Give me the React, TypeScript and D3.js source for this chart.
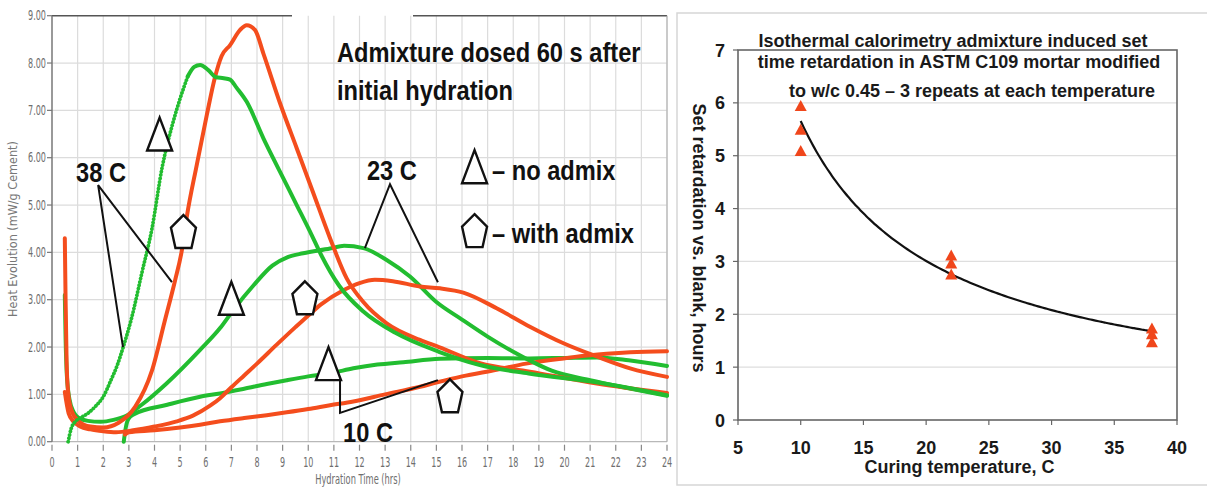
import React from "react";
import * as d3 from "d3";

type Pt = [number, number];

// ---------- Left panel: heat evolution curves, [hours, mW/g cement] ----------
const HOUR_TICKS = d3.range(0, 25);
const HEAT_TICKS = d3.range(0, 10);

const HEAT_38C_NO_ADMIX: Pt[] = [
  [0.63, 0.0], [0.75, 0.28], [0.9, 0.42], [1.1, 0.5], [1.4, 0.6], [1.7, 0.75], [2.0, 0.95],
  [2.3, 1.3], [2.55, 1.62], [2.78, 2.0], [3.1, 2.6], [3.5, 3.55], [3.9, 4.5], [4.3, 5.8],
  [4.7, 6.7], [5.0, 7.25], [5.3, 7.72], [5.55, 7.92], [5.78, 7.96], [6.1, 7.85], [6.4, 7.7],
  [6.7, 7.68], [6.95, 7.65], [7.2, 7.48], [7.6, 7.18], [8.25, 6.41], [8.9, 5.7], [9.55, 5.0],
  [10.13, 4.37], [10.5, 3.95], [11.2, 3.3], [12.15, 2.75], [13.4, 2.3], [15.1, 1.9],
  [16.7, 1.62], [18.6, 1.44], [21.3, 1.25], [24, 0.98],
];

const HEAT_38C_WITH_ADMIX: Pt[] = [
  [0.5, 4.3], [0.53, 3.0], [0.57, 1.7], [0.62, 1.1], [0.75, 0.68], [1.0, 0.45], [1.5, 0.32],
  [2.0, 0.3], [2.6, 0.4], [3.25, 0.74], [3.9, 1.5], [4.4, 2.55], [4.8, 3.4], [5.07, 4.05],
  [5.26, 4.75], [5.65, 5.85], [6.04, 6.9], [6.36, 7.7], [6.62, 8.15], [6.95, 8.38], [7.34, 8.7],
  [7.6, 8.8], [7.92, 8.7], [8.25, 8.2], [8.9, 7.15], [9.55, 6.2], [10.2, 5.25], [10.85, 4.3],
  [11.5, 3.45], [12.15, 2.95], [13.06, 2.5], [14.36, 2.15], [15.1, 2.0], [16.7, 1.66],
  [18.65, 1.48], [21.26, 1.23], [24, 1.03],
];

const HEAT_23C_NO_ADMIX: Pt[] = [
  [0.5, 3.1], [0.53, 2.2], [0.58, 1.4], [0.68, 0.9], [0.85, 0.62], [1.05, 0.5], [1.4, 0.44],
  [1.9, 0.42], [2.4, 0.46], [2.9, 0.55], [3.5, 0.78], [4.47, 1.23], [5.78, 1.94], [6.56, 2.4],
  [7.1, 2.8], [7.86, 3.3], [8.6, 3.72], [9.2, 3.9], [9.8, 3.98], [10.85, 4.08], [11.4, 4.14],
  [12.15, 4.09], [13.06, 3.84], [13.97, 3.49], [15.0, 2.95], [16.0, 2.58], [17.0, 2.22],
  [18.0, 1.9], [18.7, 1.7], [19.5, 1.5], [21.0, 1.3], [22.5, 1.13], [24, 0.97],
];

const HEAT_23C_WITH_ADMIX: Pt[] = [
  [0.5, 1.05], [0.65, 0.6], [0.85, 0.42], [1.1, 0.32], [1.5, 0.26], [2.0, 0.22], [2.5, 0.2],
  [3.17, 0.24], [4.0, 0.32], [4.87, 0.43], [5.5, 0.55], [6.17, 0.76], [6.56, 0.92], [7.0, 1.15],
  [7.5, 1.4], [8.0, 1.65], [8.77, 2.05], [9.5, 2.42], [10.07, 2.7], [10.5, 2.9], [11.37, 3.2],
  [12.0, 3.35], [12.6, 3.42], [13.3, 3.39], [14.36, 3.28], [15.14, 3.24], [16.05, 3.15],
  [17.35, 2.82], [18.65, 2.43], [19.96, 2.08], [21.26, 1.8], [22.56, 1.55], [24, 1.37],
];

const HEAT_10C_NO_ADMIX: Pt[] = [
  [2.8, 0.0], [2.88, 0.3], [2.98, 0.48], [3.2, 0.58], [4.5, 0.78], [5.78, 0.95], [6.56, 1.02],
  [7.5, 1.12], [8.38, 1.22], [9.16, 1.3], [10.0, 1.38], [10.9, 1.45], [11.76, 1.55],
  [12.7, 1.63], [13.71, 1.68], [15.14, 1.75], [17.0, 1.77], [18.65, 1.76], [20.0, 1.77],
  [21.26, 1.78], [22.5, 1.72], [24, 1.6],
];

const HEAT_10C_WITH_ADMIX: Pt[] = [
  [2.85, 0.15], [3.0, 0.2], [4.0, 0.24], [5.0, 0.3], [5.78, 0.36], [6.56, 0.43], [7.5, 0.5],
  [8.38, 0.56], [9.16, 0.62], [10.0, 0.69], [10.85, 0.77], [11.76, 0.85], [13.0, 1.0],
  [14.36, 1.16], [15.0, 1.25], [16.0, 1.38], [17.35, 1.52], [18.5, 1.65], [19.96, 1.76],
  [21.3, 1.84], [22.56, 1.89], [24, 1.91],
];

// the fast 38 C reference run was logged sparsely while rising: drawn beaded up to here
const BEADED_UNTIL_HR = 5.3;

// callout symbols and labels, placed in [hours, mW/g]
const TRIANGLE_MARKS: Pt[] = [[4.2, 6.5], [7.0, 3.03], [10.79, 1.65], [16.49, 5.81]];
const PENTAGON_MARKS: Pt[] = [[5.13, 4.44], [9.87, 3.04], [15.53, 0.97], [16.49, 4.46]];
const LEADER_LINES: Pt[][] = [
  [[2.77, 2.0], [1.8, 5.42], [4.68, 3.37]],
  [[12.21, 4.09], [13.19, 5.44], [15.06, 3.37]],
  [[11.24, 1.3], [11.24, 0.61], [15.06, 1.3]],
];
const CALLOUT_TEXTS: { text: string; at: Pt }[] = [
  { text: "38 C", at: [0.94, 5.48] },
  { text: "23 C", at: [12.29, 5.53] },
  { text: "10 C", at: [11.36, -0.01] },
  { text: "Admixture dosed 60 s after", at: [11.12, 8.02] },
  { text: "initial hydration", at: [11.12, 7.22] },
  { text: "\u2013 no admix", at: [17.17, 5.53] },
  { text: "\u2013 with admix", at: [17.17, 4.2] },
];

// ---------- Right panel: set retardation vs curing temperature ----------
const CURING_TEMP = [10, 10, 10, 22, 22, 22, 38, 38, 38];
const SET_RETARDATION = [5.95, 5.5, 5.1, 3.12, 2.97, 2.76, 1.74, 1.63, 1.48];
const TEMP_TICKS = [5, 10, 15, 20, 25, 30, 35, 40];
const RETARD_TICKS = [0, 1, 2, 3, 4, 5, 6, 7];
const TITLE_LINES = [
  "Isothermal calorimetry admixture induced set",
  "time retardation in ASTM C109 mortar modified",
  "to w/c 0.45 \u2013 3 repeats at each temperature",
];

const GREEN = "#22bd30";
const RED = "#f44d1d";
const ARIAL = "'Liberation Sans', Arial, sans-serif";
const SMALL = "'DejaVu Sans Condensed', 'DejaVu Sans', sans-serif";

// least-squares power trendline y = a * x^b (fit in log-log space)
function powerFit(xs: number[], ys: number[]) {
  const lx = xs.map(Math.log);
  const ly = ys.map(Math.log);
  const mx = d3.mean(lx) as number;
  const my = d3.mean(ly) as number;
  const b = d3.sum(lx, (v, i) => (v - mx) * (ly[i] - my)) / d3.sum(lx, (v) => (v - mx) ** 2);
  const a = Math.exp(my - b * mx);
  return (t: number) => a * Math.pow(t, b);
}

export default function App() {
  // left panel scales
  const x = d3.scaleLinear().domain([0, 24]).range([52, 667]);
  const y = d3.scaleLinear().domain([0, 9]).range([441.7, 15.7]);
  const line = d3
    .line<Pt>()
    .x((d) => x(d[0]))
    .y((d) => y(d[1]))
    .curve(d3.curveMonotoneX);
  const poly = d3
    .line<Pt>()
    .x((d) => x(d[0]))
    .y((d) => y(d[1]));

  // right panel scales
  const rx = d3.scaleLinear().domain([5, 40]).range([738, 1177]);
  const ry = d3.scaleLinear().domain([0, 7]).range([420, 50]);
  const fit = powerFit(CURING_TEMP, SET_RETARDATION);
  const [tMin, tMax] = d3.extent(CURING_TEMP) as [number, number];
  const trend = d3
    .line<number>()
    .x((t) => rx(t))
    .y((t) => ry(fit(t)))
    .curve(d3.curveMonotoneX)(d3.range(tMin, tMax + 0.001, 0.25));

  const triPath = (cx: number, cy: number, w = 25, h = 33) =>
    `M${cx - w / 2},${cy + h / 2}L${cx},${cy - h / 2}L${cx + w / 2},${cy + h / 2}Z`;
  const pentPath = (cx: number, cy: number, w = 25, h = 33) =>
    `M${cx},${cy - h / 2}L${cx + w / 2},${cy - h / 2 + h * 0.38}L${cx + w * 0.32},${cy + h / 2}` +
    `L${cx - w * 0.32},${cy + h / 2}L${cx - w / 2},${cy - h / 2 + h * 0.38}Z`;

  const curves: { data: Pt[]; color: string }[] = [
    { data: HEAT_10C_NO_ADMIX, color: GREEN },
    { data: HEAT_10C_WITH_ADMIX, color: RED },
    { data: HEAT_23C_NO_ADMIX, color: GREEN },
    { data: HEAT_23C_WITH_ADMIX, color: RED },
    { data: HEAT_38C_WITH_ADMIX, color: RED },
  ];

  const beaded = HEAT_38C_NO_ADMIX.filter((d) => d[0] <= BEADED_UNTIL_HR);
  const solid38 = HEAT_38C_NO_ADMIX.filter((d) => d[0] >= BEADED_UNTIL_HR);

  return (
    <div>
      <style>{`body{margin:0;background:#fff}`}</style>
      <svg width={1207} height={487} style={{ display: "block", background: "#fff" }}>
        {/* ===== Left panel ===== */}
        <g>
          {/* grid */}
          {HOUR_TICKS.slice(1).map((t) => (
            <line key={`vg${t}`} x1={x(t)} x2={x(t)} y1={y(9)} y2={y(0)} stroke="#dcdcdc" strokeWidth={1.2} />
          ))}
          {HEAT_TICKS.slice(1, 9).map((t) => (
            <line key={`hg${t}`} x1={x(0)} x2={x(24)} y1={y(t)} y2={y(t)} stroke="#dcdcdc" strokeWidth={1.2} />
          ))}
          <line x1={x(0)} x2={x(24)} y1={y(0)} y2={y(0)} stroke="#b8b8b8" strokeWidth={1.2} />
          {/* frame: top edge broken above the heading, right edge */}
          <line x1={x(0)} x2={292} y1={y(9)} y2={y(9)} stroke="#555" strokeWidth={1.5} />
          <line x1={413} x2={x(24)} y1={y(9)} y2={y(9)} stroke="#555" strokeWidth={1.5} />
          <line x1={x(24)} x2={x(24)} y1={y(9)} y2={y(0)} stroke="#aaa" strokeWidth={1} />
          <line x1={x(0)} x2={x(0)} y1={y(9)} y2={y(0)} stroke="#777" strokeWidth={1.5} />

          {/* y axis */}
          {HEAT_TICKS.map((t) => (
            <g key={`yt${t}`}>
              <line x1={x(0) - 5} x2={x(0)} y1={y(t)} y2={y(t)} stroke="#777" strokeWidth={1.2} />
              <text
                transform={`translate(${x(0) - 6},${y(t) + 4.5}) scale(0.9,1.35)`}
                textAnchor="end"
                fontFamily={SMALL}
                fontSize={10}
                fill="#6e6e6e"
              >
                {t.toFixed(2)}
              </text>
            </g>
          ))}
          <text
            transform={`translate(17,229) rotate(-90)`}
            textAnchor="middle"
            fontFamily={SMALL}
            fontSize={12.5}
            fill="#777"
          >
            Heat Evolution (mW/g Cement)
          </text>

          {/* x axis */}
          {HOUR_TICKS.map((t) => (
            <g key={`xt${t}`}>
              <line x1={x(t)} x2={x(t)} y1={y(0) + 3} y2={y(0) + 9} stroke="#888" strokeWidth={1.2} />
              <text
                transform={`translate(${x(t)},${467}) scale(0.85,1.4)`}
                textAnchor="middle"
                fontFamily={SMALL}
                fontSize={10.5}
                fill="#6e6e6e"
              >
                {t}
              </text>
            </g>
          ))}
          <text
            transform={`translate(358,484) scale(0.8,1.2)`}
            textAnchor="middle"
            fontFamily={SMALL}
            fontSize={11.5}
            fill="#6e6e6e"
          >
            Hydration Time (hrs)
          </text>

          {/* heat flow curves */}
          {curves.map((c, i) => (
            <path
              key={`c${i}`}
              d={line(c.data) ?? ""}
              fill="none"
              stroke={c.color}
              strokeWidth={4}
              strokeLinejoin="round"
              strokeLinecap="round"
            />
          ))}
          <path
            d={line(beaded) ?? ""}
            fill="none"
            stroke={GREEN}
            strokeWidth={3.8}
            strokeDasharray="0.1 3.3"
            strokeLinecap="round"
          />
          <path
            d={line(solid38) ?? ""}
            fill="none"
            stroke={GREEN}
            strokeWidth={4}
            strokeLinejoin="round"
            strokeLinecap="round"
          />

          {/* callouts */}
          {LEADER_LINES.map((pts, i) => (
            <path key={`ll${i}`} d={poly(pts) ?? ""} fill="none" stroke="#111" strokeWidth={2} />
          ))}
          {TRIANGLE_MARKS.map((p, i) => (
            <path key={`tm${i}`} d={triPath(x(p[0]), y(p[1]))} fill="#fff" stroke="#111" strokeWidth={2.4} strokeLinejoin="miter" />
          ))}
          {PENTAGON_MARKS.map((p, i) => (
            <path key={`pm${i}`} d={pentPath(x(p[0]), y(p[1]))} fill="#fff" stroke="#111" strokeWidth={2.4} />
          ))}
          {CALLOUT_TEXTS.map((c, i) => (
            <text
              key={`ct${i}`}
              transform={`translate(${x(c.at[0])},${y(c.at[1])}) scale(0.845,1)`}
              fontFamily={ARIAL}
              fontWeight="bold"
              fontSize={28}
              fill="#111"
            >
              {c.text}
            </text>
          ))}
        </g>

        {/* ===== Right panel ===== */}
        <g>
          <rect x={677} y={13} width={560} height={472} fill="#fff" stroke="#d6d6d6" strokeWidth={1.5} />
          {RETARD_TICKS.slice(1, 7).map((t) => (
            <line key={`rg${t}`} x1={rx(5)} x2={rx(40)} y1={ry(t)} y2={ry(t)} stroke="#dedede" strokeWidth={1.2} />
          ))}
          <rect x={rx(5)} y={ry(7)} width={rx(40) - rx(5)} height={ry(0) - ry(7)} fill="none" stroke="#666" strokeWidth={1.6} />
          {RETARD_TICKS.map((t) => (
            <g key={`ry${t}`}>
              <line x1={rx(5) - 5} x2={rx(5)} y1={ry(t)} y2={ry(t)} stroke="#666" strokeWidth={1.2} />
              <text x={rx(5) - 13} y={ry(t) + 6.5} textAnchor="end" fontFamily={ARIAL} fontWeight="bold" fontSize={18} fill="#1a1a1a">
                {t}
              </text>
            </g>
          ))}
          {TEMP_TICKS.map((t) => (
            <g key={`rxt${t}`}>
              <line x1={rx(t)} x2={rx(t)} y1={ry(0)} y2={ry(0) + 5} stroke="#666" strokeWidth={1.2} />
              <text x={rx(t)} y={454} textAnchor="middle" fontFamily={ARIAL} fontWeight="bold" fontSize={18} fill="#1a1a1a">
                {t}
              </text>
            </g>
          ))}
          <text x={(rx(5) + rx(40)) / 2 + 2} y={473} textAnchor="middle" fontFamily={ARIAL} fontWeight="bold" fontSize={18} fill="#1a1a1a">
            Curing temperature, C
          </text>
          <text
            transform={`translate(693,238) rotate(90)`}
            textAnchor="middle"
            fontFamily={ARIAL}
            fontWeight="bold"
            fontSize={18}
            fill="#1a1a1a"
          >
            Set retardation vs. blank, hours
          </text>

          {/* title */}
          <text x={953} y={47} textAnchor="middle" fontFamily={ARIAL} fontWeight="bold" fontSize={18} fill="#1a1a1a">
            {TITLE_LINES[0]}
          </text>
          <text x={959} y={68} textAnchor="middle" fontFamily={ARIAL} fontWeight="bold" fontSize={18} fill="#1a1a1a">
            {TITLE_LINES[1]}
          </text>
          <text x={972} y={97} textAnchor="middle" fontFamily={ARIAL} fontWeight="bold" fontSize={18} fill="#1a1a1a">
            {TITLE_LINES[2]}
          </text>

          {/* power trendline and measured repeats */}
          <path d={trend ?? ""} fill="none" stroke="#111" strokeWidth={2.2} />
          {CURING_TEMP.map((t, i) => {
            const cx = rx(t);
            const cy = ry(SET_RETARDATION[i]);
            return (
              <path
                key={`pt${i}`}
                d={`M${cx - 6},${cy + 5.5}L${cx},${cy - 5.5}L${cx + 6},${cy + 5.5}Z`}
                fill="#f0461b"
              />
            );
          })}
        </g>
      </svg>
    </div>
  );
}
